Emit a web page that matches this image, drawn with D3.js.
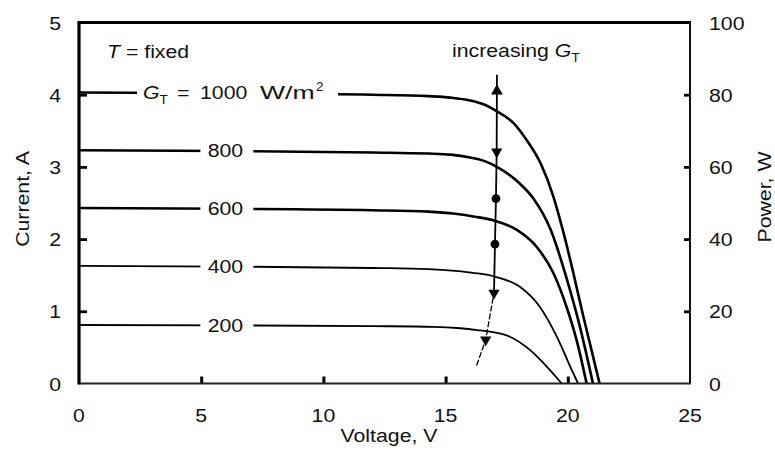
<!DOCTYPE html>
<html>
<head>
<meta charset="utf-8">
<script src="https://cdn.jsdelivr.net/npm/d3@7"></script>
<style>
  body { margin: 0; background: #fff; }
  svg text { font-family: "Liberation Sans", Arial, sans-serif; fill: #111; }
</style>
</head>
<body>
<div id="chart"></div>
<script>
const voltageTicks = [0, 5, 10, 15, 20, 25];
const currentTicks = [0, 1, 2, 3, 4, 5];
const powerTicks = [0, 20, 40, 60, 80, 100];
const irradiance = [1000, 800, 600, 400, 200];

// I-V curves: [voltage, current]
const iv1000 = [[0, 4.03], [6, 4.02], [12, 4.0], [14.3, 3.98], [15.2, 3.96], [16.0, 3.92], [16.6, 3.86], [17.1, 3.77], [17.8, 3.6], [18.3, 3.38], [18.9, 3.04], [19.4, 2.6], [19.8, 2.12], [20.2, 1.57], [20.6, 0.98], [21.0, 0.42], [21.3, 0]];
const iv800 = [[0, 3.23], [6, 3.22], [12, 3.2], [14.3, 3.185], [15.2, 3.17], [16.0, 3.13], [16.6, 3.08], [17.1, 3.0], [18.0, 2.78], [18.6, 2.56], [19.3, 2.13], [20.0, 1.4], [20.5, 0.78], [21.03, 0]];
const iv600 = [[0, 2.43], [6, 2.42], [12, 2.4], [14.3, 2.38], [15.4, 2.35], [16.2, 2.31], [16.95, 2.26], [17.9, 2.13], [18.73, 1.89], [19.41, 1.53], [19.95, 1.06], [20.36, 0.6], [20.77, 0]];
const iv400 = [[0, 1.63], [6, 1.62], [12, 1.6], [14.3, 1.585], [15.4, 1.56], [16.2, 1.53], [17.02, 1.48], [18.04, 1.34], [18.86, 1.06], [19.55, 0.65], [20.16, 0.19], [20.42, 0]];
const iv200 = [[0, 0.81], [6, 0.805], [12, 0.795], [14.5, 0.785], [15.6, 0.765], [16.3, 0.74], [16.82, 0.717], [17.63, 0.648], [18.45, 0.465], [19.14, 0.233], [19.75, 0]];
const curves = [iv1000, iv800, iv600, iv400, iv200];

// maximum power points (right axis)
const mppVoltage = [17.09, 17.06, 17.02, 16.98, 16.64];
const mppPower = [64.2, 51.2, 38.6, 25.1, 12.1];
const mppShape = ["down", "circle", "circle", "down", "down"];

// trend line through the power points, ending in the arrow
const trendVoltage = [16.27, 16.64, 16.98, 17.02, 17.06, 17.09, 17.1];
const trendPower = [5, 12.1, 25.1, 38.6, 51.2, 64.2, 85.5];
const arrowVoltage = 17.1;
const arrowPower = 81;

const W = 775, H = 451;
const svg = d3.select("#chart").append("svg").attr("width", W).attr("height", H);

const x = d3.scaleLinear().domain([0, 25]).range([79, 690]);
const y = d3.scaleLinear().domain([0, 5]).range([383.5, 22.5]);
const yP = d3.scaleLinear().domain([0, 100]).range([383.5, 22.5]);

const SX = 1.12;
function label(px, py, str, anchor, rot) {
  return svg.append("text")
    .attr("transform", `translate(${px},${py})` + (rot ? ` rotate(${rot})` : "") + ` scale(${SX},1)`)
    .attr("text-anchor", anchor || "start")
    .style("font-size", "19px")
    .text(str);
}

// curves
const line = d3.line().x(d => x(d[0])).y(d => y(d[1])).curve(d3.curveMonotoneX);
const widths = [2.6, 2.6, 2.6, 1.8, 1.8];
svg.selectAll("path.iv")
  .data(curves)
  .join("path")
  .attr("class", "iv")
  .attr("d", line)
  .attr("fill", "none")
  .attr("stroke", "#000")
  .attr("stroke-width", (d, i) => widths[i]);

// curve labels with white gaps
irradiance.forEach((g, i) => {
  const isc = curves[i][0][1];
  if (i === 0) {
    const by = y(isc) + 6;
    svg.append("rect").attr("x", 137).attr("y", y(isc) - 12).attr("width", 201).attr("height", 22).attr("fill", "#fff");
    const t = svg.append("text").attr("transform", `translate(143,${by}) scale(${SX},1)`).style("font-size", "19px");
    t.append("tspan").style("font-style", "italic").text("G");
    t.append("tspan").style("font-size", "12px").attr("dy", 5).text("T");
    svg.append("text").attr("transform", `translate(177,${by}) scale(${SX},1)`).style("font-size", "19px").text("=");
    svg.append("text").attr("transform", `translate(200,${by}) scale(${SX},1)`).style("font-size", "19px").text(String(g));
    svg.append("text").attr("transform", `translate(260,${by}) scale(1.4,1)`).style("font-size", "19px").text("W/m");
    svg.append("text").attr("transform", `translate(316,${by - 8}) scale(${SX},1)`).style("font-size", "12px").text("2");
  } else {
    svg.append("rect").attr("x", x(6.03) - 26).attr("y", y(isc) - 10).attr("width", 53).attr("height", 20).attr("fill", "#fff");
    label(x(6.03) - 1, y(isc) + 7, String(g), "middle");
  }
});

// trend line + markers
const trend = d3.line().x(d => x(d[0])).y(d => yP(d[1]));
const trendPts = trendVoltage.map((v, i) => [v, trendPower[i]]);
svg.append("path")
  .attr("d", trend(trendPts.slice(0, 3)))
  .attr("fill", "none")
  .attr("stroke", "#000")
  .attr("stroke-width", 1.3)
  .attr("stroke-dasharray", "6,2");
svg.append("path")
  .attr("d", trend(trendPts.slice(2)))
  .attr("fill", "none")
  .attr("stroke", "#000")
  .attr("stroke-width", 1.8);

svg.append("path")
  .attr("d", d3.symbol(d3.symbolTriangle, 60)())
  .attr("transform", `translate(${x(arrowVoltage)},${yP(arrowPower)})`)
  .attr("fill", "#000");

svg.selectAll("path.mpp")
  .data(mppVoltage)
  .join("path")
  .attr("class", "mpp")
  .attr("d", (d, i) => mppShape[i] === "circle" ? d3.symbol(d3.symbolCircle, 60)() : d3.symbol(d3.symbolTriangle, 55)())
  .attr("transform", (d, i) => `translate(${x(d)},${yP(mppPower[i])})` + (mppShape[i] === "down" ? " rotate(180)" : ""))
  .attr("fill", "#000");

// ticks (inward)
svg.append("g").attr("transform", `translate(${x(0)},0)`)
  .call(d3.axisLeft(y).tickValues([1, 2, 3, 4]).tickSize(-8).tickFormat(""))
  .call(g => g.select(".domain").remove())
  .call(g => g.selectAll("line").attr("stroke-width", 2.8));
svg.append("g").attr("transform", `translate(0,${y(0)})`)
  .call(d3.axisBottom(x).tickValues([5, 10, 15, 20]).tickSize(-7).tickFormat(""))
  .call(g => g.select(".domain").remove())
  .call(g => g.selectAll("line").attr("stroke-width", 3));
svg.append("g").attr("transform", `translate(${x(25)},0)`)
  .call(d3.axisRight(yP).tickValues([20, 40, 60, 80]).tickSize(-6).tickFormat(""))
  .call(g => g.select(".domain").remove())
  .call(g => g.selectAll("line").attr("stroke-width", 2.8));

// frame
svg.append("line").attr("x1", x(0)).attr("x2", x(25) + 1).attr("y1", y(5)).attr("y2", y(5)).attr("stroke", "#000").attr("stroke-width", 3);
svg.append("line").attr("x1", x(0)).attr("x2", x(25) + 1).attr("y1", y(0)).attr("y2", y(0)).attr("stroke", "#222").attr("stroke-width", 2);
svg.append("line").attr("x1", x(25)).attr("x2", x(25)).attr("y1", y(5)).attr("y2", y(0)).attr("stroke", "#111").attr("stroke-width", 2);
svg.append("line").attr("x1", x(0)).attr("x2", x(0)).attr("y1", y(5) - 1.5).attr("y2", y(0) + 1).attr("stroke", "#000").attr("stroke-width", 3.2);

// tick labels
currentTicks.forEach(v => label(61, y(v) + 7, String(v), "end"));
voltageTicks.forEach(v => label(x(v), 422, String(v), "middle"));
powerTicks.forEach(v => label(709, yP(v) + 7, String(v), "start"));

// axis titles
label(389, 442, "Voltage, V", "middle");
label(29, 199, "Current, A", "middle", -90);
label(771, 197, "Power, W", "middle", -90);

// annotations
const tf = svg.append("text").attr("transform", `translate(107,58) scale(${SX},1)`).style("font-size", "19px");
tf.append("tspan").style("font-style", "italic").text("T");
tf.append("tspan").text(" = fixed");

const inc = svg.append("text").attr("transform", `translate(452,57) scale(${SX},1)`).style("font-size", "19px");
inc.append("tspan").text("increasing ");
inc.append("tspan").style("font-style", "italic").text("G");
inc.append("tspan").style("font-size", "12px").attr("dy", 5).text("T");
</script>
</body>
</html>
